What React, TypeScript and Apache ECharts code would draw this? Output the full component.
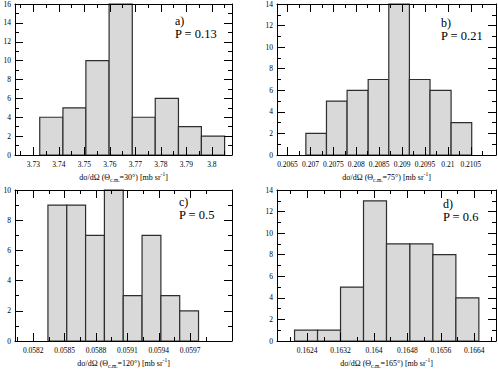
import React, { useEffect, useRef } from 'react';
import * as echarts from 'echarts';

// ---- data ----
const countsA = [4, 5, 10, 16, 4, 6, 3, 2];
const edgesA = [3.7325, 3.7416, 3.7506, 3.7597, 3.7688, 3.7778, 3.7869, 3.7959, 3.805];
const ticksA = [3.73, 3.74, 3.75, 3.76, 3.77, 3.78, 3.79, 3.8];

const countsB = [2, 5, 6, 7, 14, 7, 6, 3];
const edgesB = [0.2069, 0.20735, 0.2078, 0.20826, 0.20871, 0.20916, 0.20961, 0.21007, 0.21052];
const ticksB = [0.2065, 0.207, 0.2075, 0.208, 0.2085, 0.209, 0.2095, 0.21, 0.2105];

const countsC = [9, 9, 7, 10, 3, 7, 3, 2];
const edgesC = [0.05834, 0.05852, 0.0587, 0.05888, 0.05906, 0.05924, 0.05942, 0.0596, 0.05978];
const ticksC = [0.0582, 0.0585, 0.0588, 0.0591, 0.0594, 0.0597];

const countsD = [1, 1, 5, 13, 9, 9, 8, 4];
const edgesD = [0.1621, 0.16265, 0.1632, 0.16375, 0.1643, 0.16486, 0.16541, 0.16596, 0.16651];
const ticksD = [0.1624, 0.1632, 0.164, 0.1648, 0.1656, 0.1664];

const panelLetters = ['a)', 'b)', 'c)', 'd)'];
const panelP = ['P = 0.13', 'P = 0.21', 'P = 0.5', 'P = 0.6'];
const angles = ['30', '75', '120', '165'];
const yMaxes = [16, 14, 10, 14];

const FONT = 'Liberation Serif, serif';

interface Panel {
  counts: number[];
  edges: number[];
  ticks: number[];
  min: number;
  max: number;
  grid: { left: number; top: number; width: number; height: number };
  textX: number;
  textY: number;
}

const panels: Panel[] = [
  { counts: countsA, edges: edgesA, ticks: ticksA, min: 3.7228, max: 3.8079,
    grid: { left: 15, top: 4, width: 217, height: 151 }, textX: 175, textY: 15 },
  { counts: countsB, edges: edgesB, ticks: ticksB, min: 0.20627, max: 0.21105,
    grid: { left: 277, top: 4, width: 219, height: 151 }, textX: 441, textY: 17 },
  { counts: countsC, edges: edgesC, ticks: ticksC, min: 0.058025, max: 0.0601,
    grid: { left: 15, top: 190, width: 217, height: 152 }, textX: 179, textY: 196 },
  { counts: countsD, edges: edgesD, ticks: ticksD, min: 0.16168, max: 0.16692,
    grid: { left: 277, top: 190, width: 219, height: 152 }, textX: 443, textY: 198 },
];

function fmt(v: number) {
  return String(parseFloat(Number(v).toFixed(6)));
}

function minorsOf(ticks: number[], min: number, max: number) {
  const step = ticks[1] - ticks[0];
  const out: number[] = [];
  const first = ticks[0] - step / 2;
  for (let i = 0; i < ticks.length + 2; i++) {
    const v = first + i * step;
    if (v > min && v < max) out.push(parseFloat(v.toFixed(8)));
  }
  return out;
}

export default function App() {
  const ref = useRef<HTMLDivElement>(null);
  useEffect(() => {
    if (!ref.current) return;
    const chart = echarts.init(ref.current, null, { renderer: 'svg' });
    const grids: any[] = [];
    const xAxes: any[] = [];
    const yAxes: any[] = [];
    const series: any[] = [];
    const graphics: any[] = [];
    const lineStyle = { color: '#000', width: 1 };

    panels.forEach((p, i) => {
      grids.push({ ...p.grid, containLabel: false });
      const minors = minorsOf(p.ticks, p.min, p.max);
      const base = {
        type: 'value', gridIndex: i, min: p.min, max: p.max, z: 5,
        splitLine: { show: false },
      };
      const name = `{m|dσ/dΩ (Θ}{s|c.m.}{m|=${angles[i]}°) [mb sr}{p|-1}{m|]}`;
      xAxes.push({
        ...base, position: 'bottom',
        axisLine: { show: true, onZero: false, lineStyle },
        axisTick: { show: true, inside: true, length: 8, customValues: p.ticks, lineStyle },
        axisLabel: { show: true, customValues: p.ticks, formatter: (v: number) => fmt(v),
          fontFamily: FONT, fontSize: 7.5, color: '#000', margin: 5 },
        name, nameLocation: 'middle', nameGap: 16,
        nameTextStyle: {
          fontFamily: FONT, fontSize: 8, color: '#000',
          rich: {
            m: { fontFamily: FONT, fontSize: 8, color: '#000', lineHeight: 12 },
            s: { fontFamily: FONT, fontSize: 5.5, color: '#000', verticalAlign: 'bottom' },
            p: { fontFamily: FONT, fontSize: 5.5, color: '#000', verticalAlign: 'top' },
          },
        },
      });
      xAxes.push({
        ...base, position: 'bottom',
        axisLine: { show: false, onZero: false },
        axisTick: { show: true, inside: true, length: 4, customValues: minors, lineStyle },
        axisLabel: { show: false },
      });
      xAxes.push({
        ...base, position: 'top',
        axisLine: { show: true, onZero: false, lineStyle },
        axisTick: { show: true, inside: true, length: 8, customValues: p.ticks, lineStyle },
        axisLabel: { show: false },
      });
      xAxes.push({
        ...base, position: 'top',
        axisLine: { show: false, onZero: false },
        axisTick: { show: true, inside: true, length: 4, customValues: minors, lineStyle },
        axisLabel: { show: false },
      });
      const ybase = {
        type: 'value', gridIndex: i, min: 0, max: yMaxes[i], interval: 2, z: 5,
        splitLine: { show: false }, minorSplitLine: { show: false },
        axisLine: { show: true, onZero: false, lineStyle },
        axisTick: { show: true, inside: true, length: 8, lineStyle },
        minorTick: { show: true, splitNumber: 2, length: 4, lineStyle },
      };
      yAxes.push({
        ...ybase, position: 'left',
        axisLabel: { show: true, fontFamily: FONT, fontSize: 7.5, color: '#000', margin: 4 },
      });
      yAxes.push({ ...ybase, position: 'right', axisLabel: { show: false } });

      series.push({
        type: 'custom',
        xAxisIndex: i * 4,
        yAxisIndex: i * 2,
        z: 2,
        encode: { x: [0, 1], y: 2 },
        data: p.counts.map((c, k) => [p.edges[k], p.edges[k + 1], c]),
        renderItem: (params: any, api: any) => {
          const a = api.coord([api.value(0), api.value(2)]);
          const b = api.coord([api.value(1), 0]);
          return {
            type: 'rect',
            shape: { x: a[0], y: a[1], width: b[0] - a[0], height: b[1] - a[1] },
            style: { fill: '#d9d9d9', stroke: '#2e2e2e', lineWidth: 1.2 },
          };
        },
      });

      graphics.push({
        type: 'text', x: p.textX, y: p.textY, z: 10,
        style: {
          text: panelLetters[i],
          fontFamily: FONT, fontSize: 12, fill: '#000', verticalAlign: 'top',
        },
      });
      graphics.push({
        type: 'text', x: p.textX, y: p.textY + 12.5, z: 10,
        style: {
          text: panelP[i],
          fontFamily: FONT, fontSize: 12.5, fill: '#000', verticalAlign: 'top',
        },
      });
    });

    chart.setOption({
      animation: false,
      backgroundColor: '#fff',
      grid: grids,
      xAxis: xAxes,
      yAxis: yAxes,
      series,
      graphic: graphics,
    });
    return () => chart.dispose();
  }, []);
  return (
    <div
      ref={ref}
      style={{ position: 'fixed', left: 0, top: 0, width: 498, height: 370, background: '#fff' }}
    />
  );
}
